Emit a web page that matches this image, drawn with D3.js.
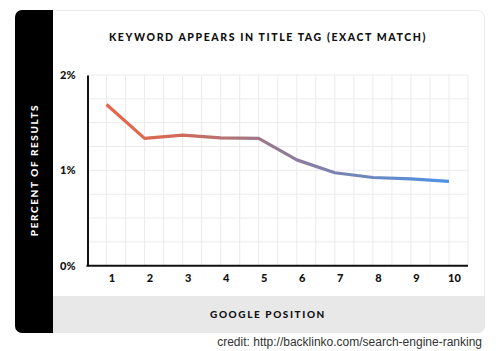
<!DOCTYPE html>
<html>
<head>
<meta charset="utf-8">
<script src="https://cdn.jsdelivr.net/npm/d3@7"></script>
<style>
  body { margin: 0; background: #fff; }
</style>
</head>
<body>
<svg id="drawing_region"></svg>
<script>
// values
const positions = [1, 2, 3, 4, 5, 6, 7, 8, 9, 10];
const percents = [1.69, 1.335, 1.37, 1.34, 1.335, 1.11, 0.975, 0.925, 0.91, 0.885];
const yTickValues = [0, 1, 2];
const chartTitle = 'KEYWORD APPEARS IN TITLE TAG (EXACT MATCH)';
const xTitle = 'GOOGLE POSITION';
const yTitle = 'PERCENT OF RESULTS';
const credit = 'credit: http://backlinko.com/search-engine-ranking';

const data = positions.map((p, i) => ({ pos: p, value: percents[i] }));

const width = 500, height = 351;
const card = { x: 15, y: 10, w: 470, h: 323, band: 38, foot: 37 };
const plot = { left: 87.5, right: 468, top: 75, bottom: 265.7 };
const boldFont = 'Lato, "Open Sans", sans-serif';

const svg = d3.select('#drawing_region')
    .attr('width', width)
    .attr('height', height);

// card
svg.append('rect')
    .attr('x', card.x + 0.5).attr('y', card.y + 0.5)
    .attr('width', card.w - 1).attr('height', card.h - 1)
    .attr('rx', 7)
    .attr('fill', '#fff')
    .attr('stroke', '#ececec');

const clip = svg.append('clipPath').attr('id', 'cardclip')
    .append('rect')
    .attr('x', card.x).attr('y', card.y)
    .attr('width', card.w).attr('height', card.h)
    .attr('rx', 7);

// footer band
svg.append('rect')
    .attr('clip-path', 'url(#cardclip)')
    .attr('x', card.x).attr('y', card.y + card.h - card.foot)
    .attr('width', card.w).attr('height', card.foot)
    .attr('fill', '#e8e8e8');

// black side band
svg.append('rect')
    .attr('clip-path', 'url(#cardclip)')
    .attr('x', card.x).attr('y', card.y)
    .attr('width', card.band).attr('height', card.h)
    .attr('fill', '#000');

const x = d3.scaleLinear().domain([0.5, 10.5]).range([plot.left, plot.right]);
const y = d3.scaleLinear().domain([0, 2]).range([plot.bottom, plot.top]);

// background grid
const grid = svg.append('g');
grid.selectAll('line.v')
    .data(d3.range(0.5, 10.51, 0.5))
    .enter().append('line')
    .attr('x1', d => x(d)).attr('x2', d => x(d))
    .attr('y1', plot.top).attr('y2', plot.bottom)
    .attr('stroke', '#ebebeb').attr('stroke-width', 1);
grid.selectAll('line.h')
    .data(d3.range(0.25, 2.01, 0.25))
    .enter().append('line')
    .attr('x1', plot.left).attr('x2', plot.right)
    .attr('y1', d => y(d)).attr('y2', d => y(d))
    .attr('stroke', '#ebebeb').attr('stroke-width', 1);

// axes
const yAxis = d3.axisLeft(y)
    .tickValues(yTickValues)
    .tickSize(0)
    .tickPadding(12)
    .tickFormat(d => d + '%');
const gy = svg.append('g')
    .attr('transform', `translate(${plot.left},0)`)
    .call(yAxis);
gy.select('.domain').attr('stroke', '#111').attr('stroke-width', 2);
gy.selectAll('text')
    .style('font-family', boldFont)
    .style('font-size', '11px').style('font-weight', 900)
    .attr('fill', '#111');

const xAxis = d3.axisBottom(x)
    .tickValues(positions)
    .tickSize(0)
    .tickPadding(9);
const gx = svg.append('g')
    .attr('transform', `translate(0,${plot.bottom})`)
    .call(xAxis);
gx.select('.domain').attr('stroke', '#111').attr('stroke-width', 2)
    .attr('d', `M${plot.left - 1},0H${plot.right}`);
gx.selectAll('text')
    .attr('dx', 5)
    .style('font-family', boldFont)
    .style('font-size', '11px').style('font-weight', 900)
    .attr('fill', '#111');

// gradient line
const grad = svg.append('defs').append('linearGradient')
    .attr('id', 'lineGrad')
    .attr('gradientUnits', 'userSpaceOnUse')
    .attr('x1', x(1)).attr('x2', x(10))
    .attr('y1', 0).attr('y2', 0);
grad.append('stop').attr('offset', '0%').attr('stop-color', '#e8664a');
grad.append('stop').attr('offset', '20%').attr('stop-color', '#d36a55');
grad.append('stop').attr('offset', '50%').attr('stop-color', '#947b93');
grad.append('stop').attr('offset', '100%').attr('stop-color', '#4b93e6');

const line = d3.line()
    .x(d => x(d.pos))
    .y(d => y(d.value));

svg.append('path')
    .datum(data)
    .attr('d', line)
    .attr('fill', 'none')
    .attr('stroke', 'url(#lineGrad)')
    .attr('stroke-width', 3.2)
    .attr('stroke-linejoin', 'round');

// titles
svg.append('text')
    .attr('x', 268).attr('y', 41)
    .attr('text-anchor', 'middle')
    .style('font-family', boldFont)
    .style('font-size', '10.5px').style('font-weight', 900)
    .attr('letter-spacing', 1.6)
    .attr('fill', '#111')
    .text(chartTitle);

svg.append('text')
    .attr('x', 268).attr('y', 318)
    .attr('text-anchor', 'middle')
    .style('font-family', boldFont)
    .style('font-size', '10px').style('font-weight', 900)
    .attr('letter-spacing', 1.6)
    .attr('fill', '#111')
    .text(xTitle);

svg.append('text')
    .attr('transform', 'translate(38,170) rotate(-90)')
    .attr('text-anchor', 'middle')
    .style('font-family', boldFont)
    .style('font-size', '10px').style('font-weight', 900)
    .attr('letter-spacing', 1.6)
    .attr('fill', '#fff')
    .text(yTitle);

svg.append('text')
    .attr('x', 482).attr('y', 346)
    .attr('text-anchor', 'end')
    .style('font-family', '"Liberation Sans", Arial, sans-serif')
    .style('font-size', '12px')
    .attr('fill', '#333')
    .text(credit);
</script>
</body>
</html>
